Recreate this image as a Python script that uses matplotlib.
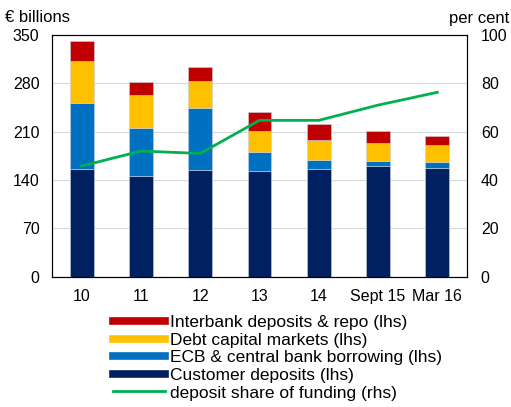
import matplotlib.pyplot as plt
from matplotlib.lines import Line2D
import numpy as np

plt.rcParams['font.family'] = ['Liberation Sans', 'DejaVu Sans']

# data
years = ['10', '11', '12', '13', '14', 'Sept 15', 'Mar 16']
customer = [156, 146, 155, 153, 156, 161, 158]
ecb = [96, 70, 90, 28, 13, 7, 8]
debt = [61, 47, 39, 30, 29, 26, 25]
interbank = [29, 19, 19, 27, 23, 17, 13]
share = [45.8, 52.0, 51.0, 64.7, 64.7, 71.0, 76.3]

c_navy = '#002060'
c_blue = '#0070C0'
c_yellow = '#FFC000'
c_red = '#C00000'
c_green = '#00B050'

fig = plt.figure(figsize=(5.11, 4.07), dpi=100)
ax = fig.add_axes([0.1018, 0.320, 0.812, 0.594])

x = np.arange(len(years))
w = 0.4
edge = dict(edgecolor='#c8d0e0', linewidth=0.4)
ax.bar(x, customer, w, color=c_navy, **edge)
b1 = np.array(customer)
ax.bar(x, ecb, w, bottom=b1, color=c_blue, **edge)
b2 = b1 + np.array(ecb)
ax.bar(x, debt, w, bottom=b2, color=c_yellow, **edge)
b3 = b2 + np.array(debt)
ax.bar(x, interbank, w, bottom=b3, color=c_red, **edge)

ax.set_ylim(0, 350)
ax.set_yticks(np.arange(0, 351, 70))
ax.set_xlim(-0.5, len(years) - 0.5)
ax.set_xticks(x)
ax.set_xticklabels(years)
ax.grid(axis='y', color='#d9d9d9', linewidth=0.8)
ax.set_axisbelow(True)
ax.tick_params(length=0, labelsize=11.5, pad=9)
for s in ax.spines.values():
    s.set_linewidth(0.8)

ax2 = ax.twinx()
ax2.plot(x, share, color=c_green, linewidth=2)
ax2.set_ylim(0, 100)
ax2.set_yticks(np.arange(0, 101, 20))
ax2.tick_params(length=0, labelsize=11.5, pad=10)

fig.text(0.01, 0.957, '€ billions', fontsize=12, va='center')
fig.text(0.996, 0.955, 'per cent', fontsize=12, va='center', ha='right')

handles = [
    Line2D([], [], color=c_red, linewidth=5.5),
    Line2D([], [], color=c_yellow, linewidth=5.5),
    Line2D([], [], color=c_blue, linewidth=5.5),
    Line2D([], [], color=c_navy, linewidth=5.5),
    Line2D([], [], color=c_green, linewidth=2),
]
labels = ['Interbank deposits & repo (lhs)', 'Debt capital markets (lhs)',
          'ECB & central bank borrowing (lhs)', 'Customer deposits (lhs)',
          'deposit share of funding (rhs)']
fig.legend(handles, labels, loc='upper left', bbox_to_anchor=(0.221, 0.226),
           frameon=False, fontsize=12.5, handlelength=3.0, handletextpad=0.3,
           labelspacing=0.14, borderpad=0, borderaxespad=0)

fig.savefig('out.png', dpi=100)
